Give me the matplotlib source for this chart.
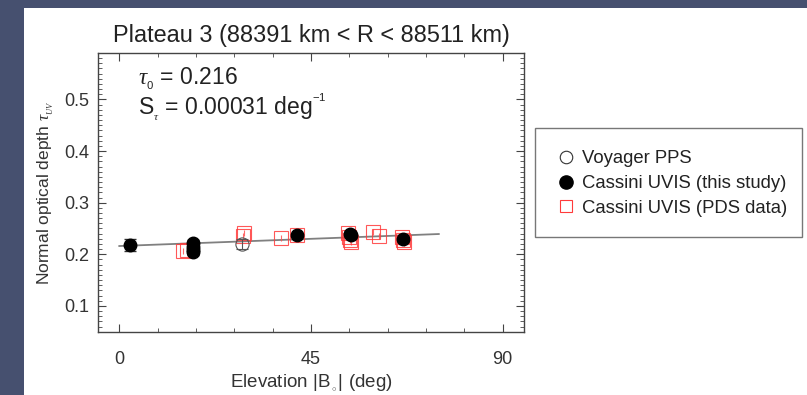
import numpy as np
import matplotlib
matplotlib.use('Agg')
import matplotlib.pyplot as plt
from matplotlib.patches import Rectangle
from matplotlib.ticker import MultipleLocator

plt.rcParams['font.family'] = ['Liberation Sans', 'DejaVu Sans']
plt.rcParams['mathtext.fontset'] = 'custom'
plt.rcParams['mathtext.rm'] = 'Liberation Sans'
plt.rcParams['mathtext.it'] = 'Liberation Serif:italic'

# Voyager PPS
voy_elev = [28.7]
voy_tau = [0.220]
voy_err = [0.010]

# Cassini UVIS (this study)
uvis_elev = [2.6, 17.3, 17.3, 17.3, 17.3, 41.6, 54.2, 54.3, 66.6]
uvis_tau = [0.218, 0.222, 0.215, 0.209, 0.204, 0.237, 0.240, 0.237, 0.229]
uvis_err = [0.012, 0.006, 0.006, 0.006, 0.006, 0.004, 0.005, 0.005, 0.005]

# Cassini UVIS (PDS data)
pds_elev = [15.0, 16.0, 29.0, 29.2, 37.9, 41.6, 53.8, 54.0, 54.2, 54.4,
            59.6, 61.0, 66.4, 66.6, 66.8]
pds_tau = [0.207, 0.209, 0.236, 0.241, 0.232, 0.237, 0.241, 0.234, 0.228, 0.224,
           0.243, 0.236, 0.233, 0.227, 0.223]
pds_err = [0.006] * len(pds_elev)

# linear fit tau = tau0 + S * B
tau0 = 0.216
slope = 0.00031
fit_range = [0, 75]

fig = plt.figure(figsize=(8.07, 3.95), dpi=100)
fig.patch.set_facecolor('#46506f')
fig.patches.append(Rectangle((24 / 807, 0), 1, 1 - 8 / 395, transform=fig.transFigure,
                             facecolor='white', edgecolor='none', zorder=-10))

ax = fig.add_axes([98 / 807, 1 - 331.7 / 395, (524 - 98) / 807, (331.7 - 53) / 395])
ax.set_facecolor('white')

fx = np.array(fit_range)
ax.plot(fx, tau0 + slope * fx, color='#808080', lw=1.3, zorder=2)

ax.errorbar(pds_elev, pds_tau, yerr=pds_err, fmt='s', ms=9.5, mfc='none', mec='#ff3b3b',
            mew=0.8, ecolor='#ff5050', elinewidth=0.8, capsize=0, alpha=0.85, zorder=3)
ax.errorbar(voy_elev, voy_tau, yerr=voy_err, fmt='o', ms=9.5, mfc='none', mec='#555555',
            mew=0.8, ecolor='#555555', elinewidth=0.8, capsize=4, zorder=4)
ax.errorbar(uvis_elev, uvis_tau, yerr=uvis_err, fmt='o', ms=9, mfc='black', mec='black',
            ecolor='#333333', elinewidth=0.9, capsize=4, zorder=5)

ax.set_xlim(-5, 95)
ax.set_ylim(0.05, 0.59)
ax.xaxis.set_major_locator(MultipleLocator(45))
ax.xaxis.set_minor_locator(MultipleLocator(9))
ax.yaxis.set_major_locator(MultipleLocator(0.1))
ax.yaxis.set_minor_locator(MultipleLocator(0.01))
ax.set_yticks([0.1, 0.2, 0.3, 0.4, 0.5])
ax.set_yticklabels(['0.1', '0.2', '0.3', '0.4', '0.5'])
ax.tick_params(which='both', direction='in', top=True, right=True, colors='#444444',
               labelsize=13, labelcolor='#333333')
ax.tick_params(which='major', length=6, width=0.8)
ax.tick_params(which='minor', length=3, width=0.6)
ax.tick_params(axis='x', pad=14)
ax.tick_params(axis='y', pad=6)
for s in ax.spines.values():
    s.set_color('#444444')
    s.set_linewidth(1.0)

ax.set_title('Plateau 3 (88391 km < R < 88511 km)', fontsize=16.9, color='#222222', pad=8)
ax.set_xlabel(r'Elevation |B$_{_\circ}$| (deg)', fontsize=13.5, color='#333333', labelpad=3)
ax.set_ylabel(r'Normal optical depth $\tau_{_{UV}}$', fontsize=12.5, color='#333333', labelpad=6)

ax.text(0.095, 0.955, r'$\tau_{_0}$ = 0.216', transform=ax.transAxes, fontsize=16.5,
        color='#222222', va='top')
ax.text(0.095, 0.86, r'S$_{_\tau}$ = 0.00031 deg$^{^{-1}}$', transform=ax.transAxes,
        fontsize=16.5, color='#222222', va='top')

# legend
fig.patches.append(Rectangle((535 / 807, 1 - 237 / 395), (802 - 535) / 807, (237 - 128) / 395,
                             transform=fig.transFigure, facecolor='white',
                             edgecolor='#777777', lw=1.0, zorder=1))
h1 = ax.plot([], [], 'o', ms=9, mfc='none', mec='#333333', mew=0.8)[0]
h2 = ax.plot([], [], 'o', ms=9.5, mfc='black', mec='black')[0]
h3 = ax.plot([], [], 's', ms=9, mfc='none', mec='#ff3b3b', mew=0.8)[0]
fig.legend([h1, h2, h3], ['Voyager PPS', 'Cassini UVIS (this study)', 'Cassini UVIS (PDS data)'],
           loc='center left', bbox_to_anchor=(551 / 807, 1 - 183.5 / 395), frameon=False,
           fontsize=13.3, handlelength=0.8, handletextpad=0.5, labelspacing=0.42,
           labelcolor='#222222', borderaxespad=0)

fig.savefig('out.png', dpi=100, facecolor=fig.get_facecolor())
